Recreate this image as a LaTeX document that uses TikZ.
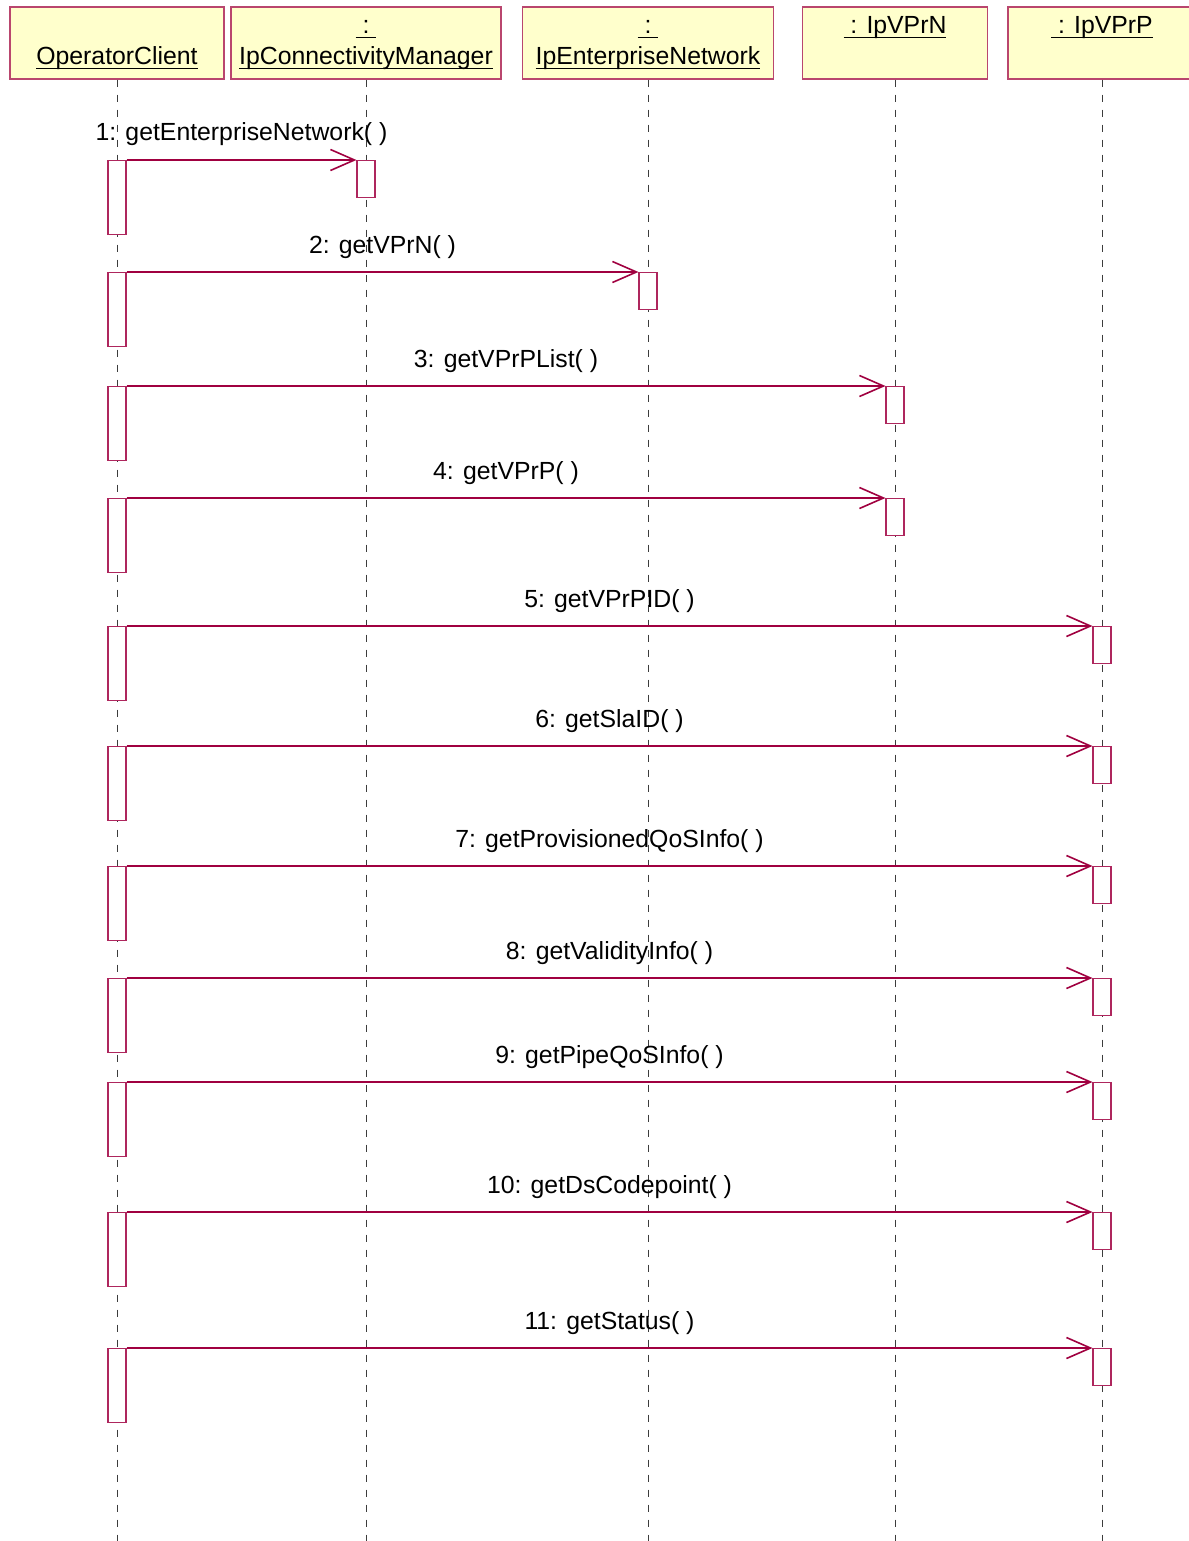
\documentclass[tikz,border=0pt]{standalone}
\usepackage{fontspec}
\setmainfont{Liberation Sans}
\usetikzlibrary{arrows.meta,calc}
\definecolor{umlred}{RGB}{160,0,64}
\definecolor{hdrborder}{RGB}{185,70,110}
\definecolor{hdrfill}{RGB}{255,255,204}
\definecolor{lifegray}{RGB}{60,60,60}
\newcommand\myul[1]{\setbox0\hbox{#1}\rlap{\rule[-4pt]{\wd0}{1.2pt}}\box0}
\begin{document}
\begin{tikzpicture}[x=1pt,y=-1pt,
  hdr/.style={draw=hdrborder, fill=hdrfill, line width=1.1pt, inner sep=0pt, minimum height=72pt},
  txt/.style={inner sep=0pt, font=\fontsize{24.8}{28}\selectfont, anchor=base},
  lifeline/.style={draw=lifegray, line width=1pt, dash pattern=on 7pt off 8pt},
  act/.style={draw=umlred!85, fill=white, line width=1.1pt, minimum width=18pt, inner sep=0pt, anchor=north},
  msg/.style={draw=umlred, line width=1.1pt, -{Straight Barb[length=24pt,width=21pt,line width=1.6pt]}}]
\useasboundingbox (0,0) rectangle (1188,1541);
\fill[white] (0,0) rectangle (1188,1541);
% headers
\node[hdr, minimum width=214pt] (h1) at (117,43) {};
\node[hdr, minimum width=270pt] (h2) at (366,43) {};
\node[hdr, minimum width=251pt] (h3) at (648,43) {};
\node[hdr, minimum width=185pt] (h4) at (895,43) {};
\node[hdr, minimum width=188pt] (h5) at (1102,43) {};
\node[txt] (n1) at (117,65) {\myul{OperatorClient}};
\node[txt] (c2) at (366,34) {\myul{\ :\ }};
\node[txt] (n2) at (366,65) {\myul{IpConnectivityManager}};
\node[txt] (c3) at (648,34) {\myul{\ :\ }};
\node[txt] (n3) at (648,65) {\myul{IpEnterpriseNetwork}};
\node[txt] (n4) at (895,34) {\myul{\ : IpVPrN}};
\node[txt] (n5) at (1102,34) {\myul{\ : IpVPrP}};
% lifelines
\foreach \k in {1,...,5}{
  \coordinate (e\k) at ($(h\k.south)+(0,1470)$);
  \draw[lifeline] (h\k.south) -- (e\k);
}
% messages
\foreach \i/\y/\x/\t in {1/160/366/{getEnterpriseNetwork( )},
  2/272/648/{getVPrN( )},
  3/386/895/{getVPrPList( )},
  4/498/895/{getVPrP( )},
  5/626/1102/{getVPrPID( )},
  6/746/1102/{getSlaID( )},
  7/866/1102/{getProvisionedQoSInfo( )},
  8/978/1102/{getValidityInfo( )},
  9/1082/1102/{getPipeQoSInfo( )},
  10/1212/1102/{getDsCodepoint( )},
  11/1348/1102/{getStatus( )}}{
  \node[act, minimum height=74pt] (s\i) at (117,\y) {};
  \node[act, minimum height=37pt] (t\i) at (\x,\y) {};
  \draw[msg] (s\i.north east) -- (t\i.north west);
  \node[txt] (l\i) at ($(s\i.north east)!0.5!(t\i.north west)+(0,-19)$) {\i: \t};
}
\end{tikzpicture}
\end{document}
